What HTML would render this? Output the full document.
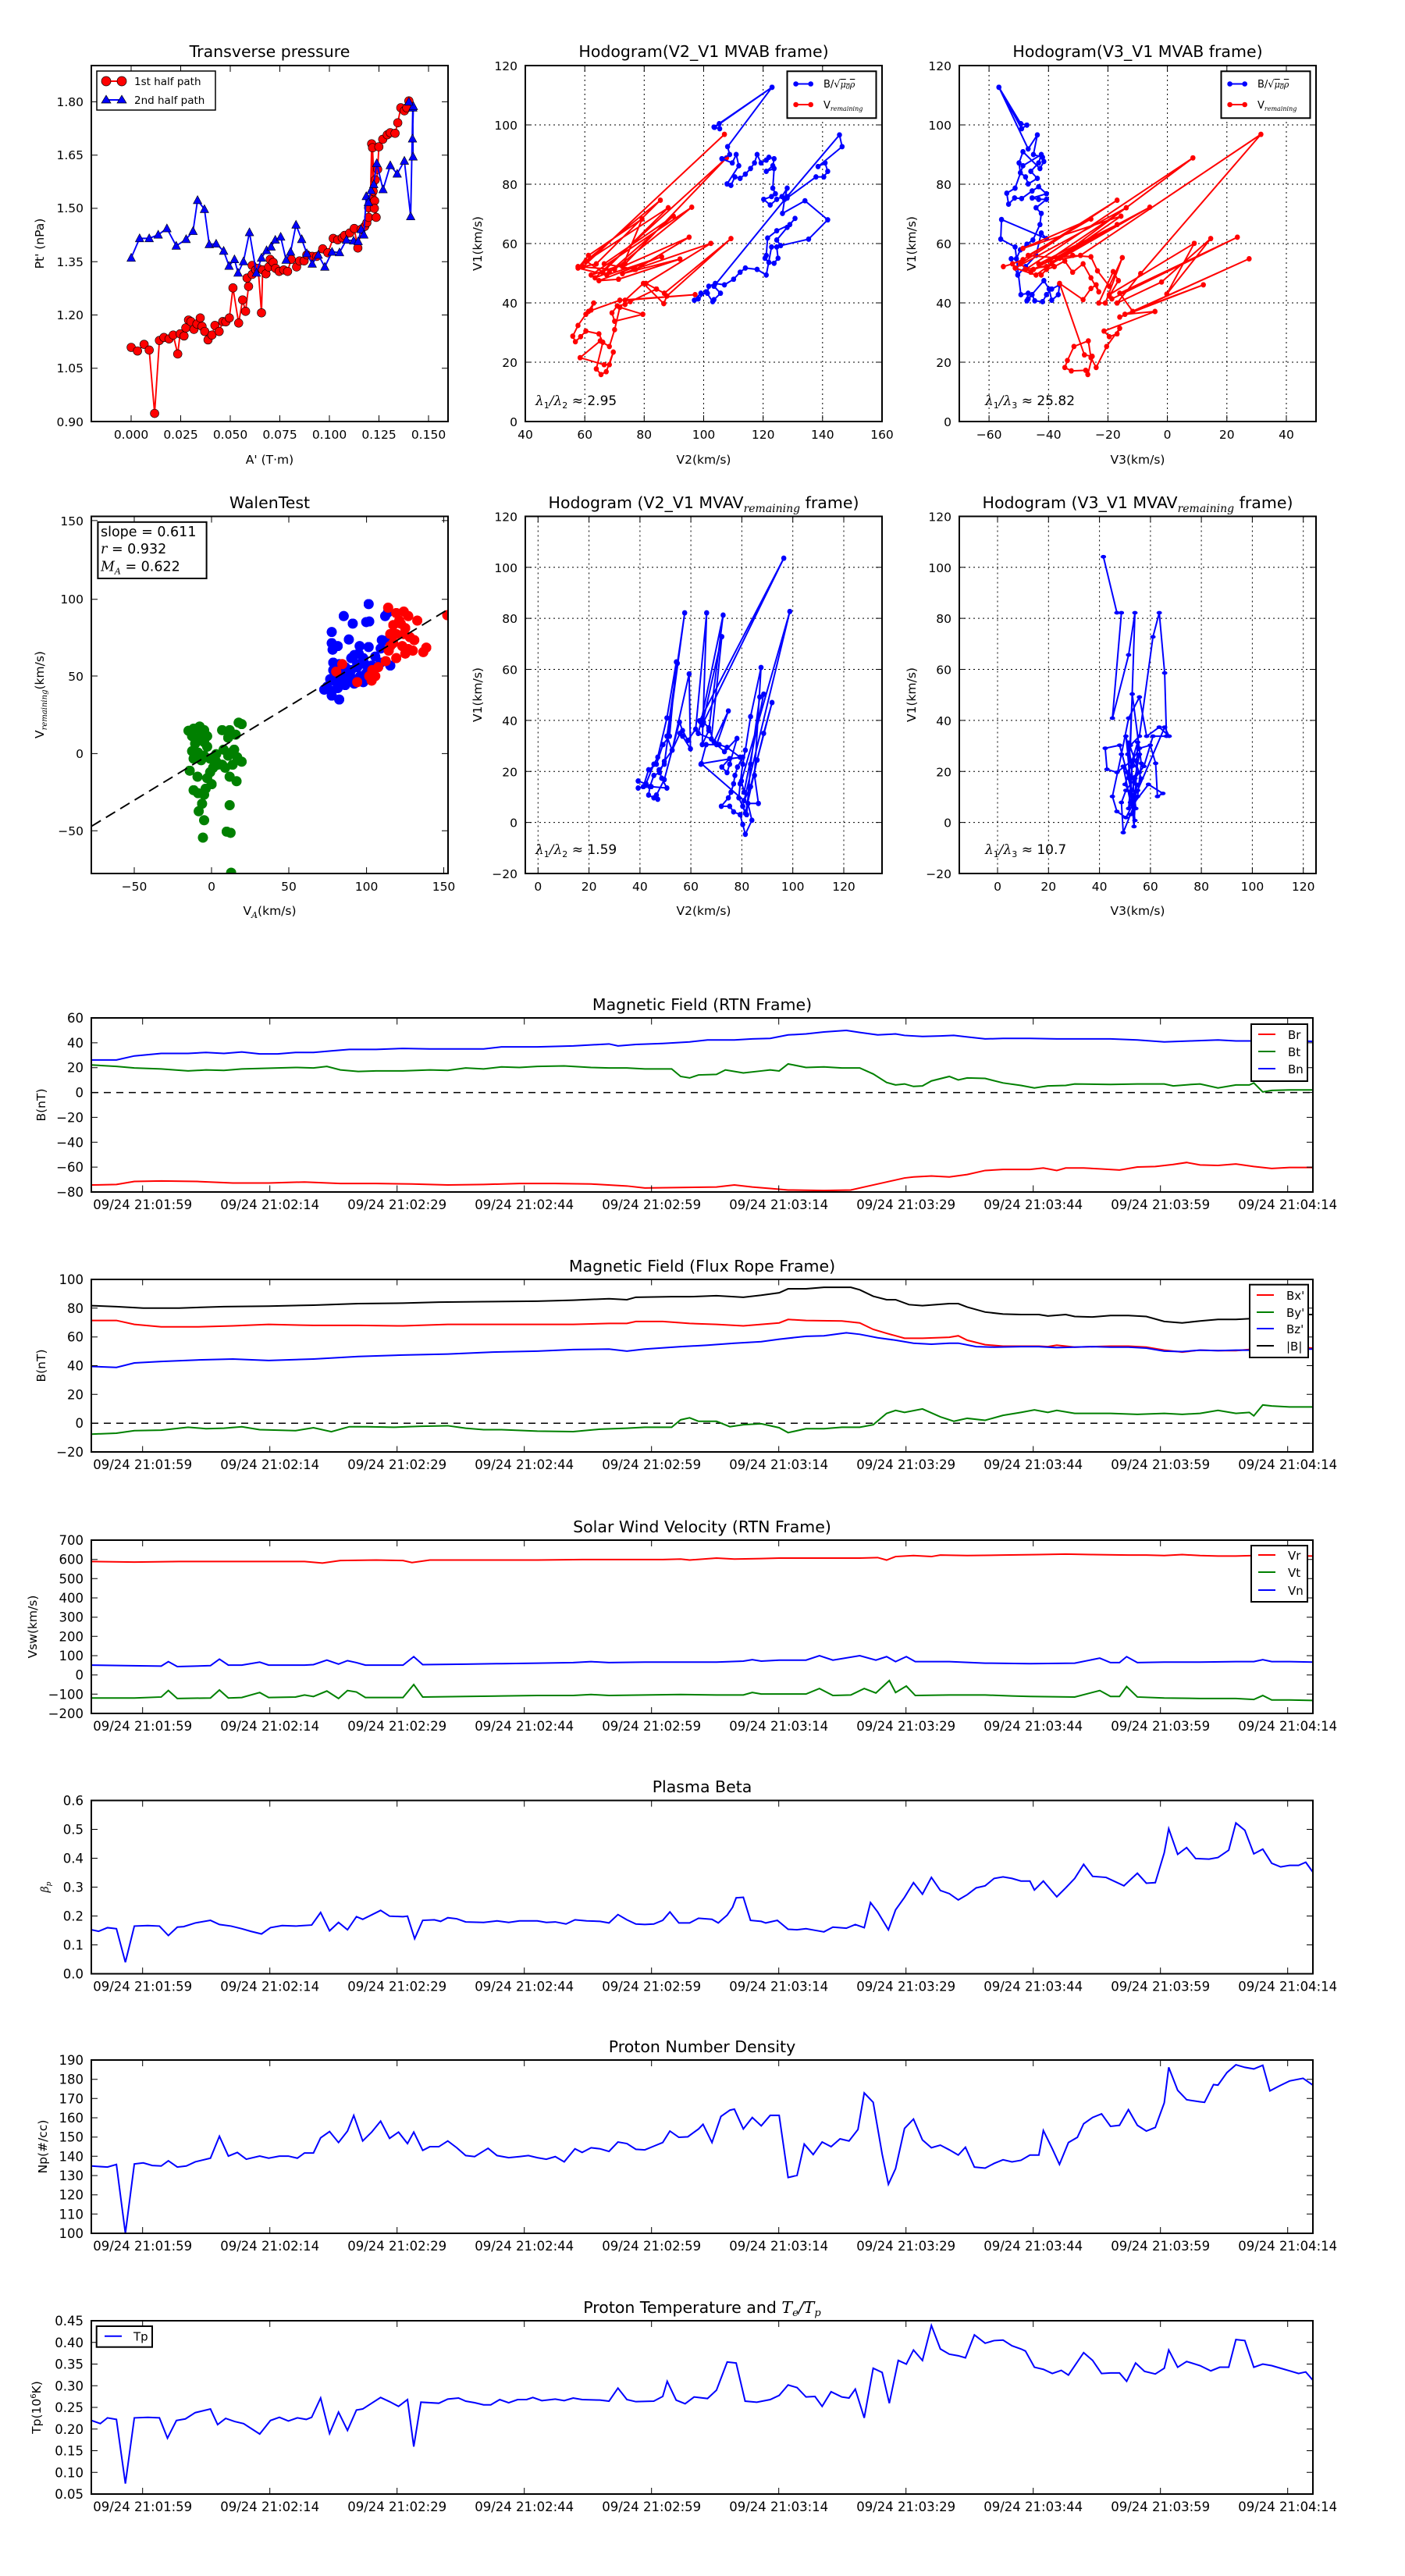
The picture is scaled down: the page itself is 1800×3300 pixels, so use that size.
<!DOCTYPE html>
<html><head><meta charset="utf-8"><style>
html,body{margin:0;padding:0;background:#fff;}
svg{display:block;font-family:"DejaVu Sans","Liberation Sans",sans-serif;}
.t{font-size:15.5px;}
.ts{font-size:16.5px;}
.ttl{font-size:20.5px;}
.m{font-family:"DejaVu Serif","Liberation Serif",serif;font-style:italic;}
</style></head><body>
<svg width="1800" height="3300" viewBox="0 0 1800 3300" xmlns="http://www.w3.org/2000/svg">
<defs>
<marker id="mc" markerUnits="userSpaceOnUse" viewBox="0 0 10 10" refX="5" refY="5" markerWidth="31" markerHeight="31"><circle cx="5" cy="5" r="4.6" fill="#f00" stroke="#000" stroke-width="0.5"/></marker>
<marker id="mt" markerUnits="userSpaceOnUse" viewBox="0 0 10 10" refX="5" refY="5.5" markerWidth="31" markerHeight="31"><polygon points="5,0.6 9.6,9.2 0.4,9.2" fill="#00f" stroke="#000" stroke-width="0.5"/></marker>
<marker id="hb" markerUnits="userSpaceOnUse" viewBox="0 0 10 10" refX="5" refY="5" markerWidth="20.9" markerHeight="19.5"><circle cx="5" cy="5" r="5" fill="#00f"/></marker>
<marker id="hr" markerUnits="userSpaceOnUse" viewBox="0 0 10 10" refX="5" refY="5" markerWidth="20.9" markerHeight="19.5"><circle cx="5" cy="5" r="5" fill="#f00"/></marker>
<marker id="hb2" markerUnits="userSpaceOnUse" viewBox="0 0 10 10" refX="5" refY="5" markerWidth="6.06" markerHeight="9.07"><circle cx="5" cy="5" r="5" fill="#00f"/></marker>
<marker id="wb" markerUnits="userSpaceOnUse" viewBox="0 0 10 10" refX="5" refY="5" markerWidth="34" markerHeight="34"><circle cx="5" cy="5" r="5" fill="#00f"/></marker>
<marker id="wr" markerUnits="userSpaceOnUse" viewBox="0 0 10 10" refX="5" refY="5" markerWidth="34" markerHeight="34"><circle cx="5" cy="5" r="5" fill="#f00"/></marker>
<marker id="wg" markerUnits="userSpaceOnUse" viewBox="0 0 10 10" refX="5" refY="5" markerWidth="34" markerHeight="34"><circle cx="5" cy="5" r="5" fill="#008000"/></marker>
<clipPath id="c1"><rect x="117" y="84" width="457" height="456"/></clipPath>
<clipPath id="c2"><rect x="673" y="84" width="457" height="456"/></clipPath>
<clipPath id="c3"><rect x="1229" y="84" width="457" height="456"/></clipPath>
<clipPath id="c4"><rect x="117" y="661.5" width="457" height="457.5"/></clipPath>
<clipPath id="c5"><rect x="673" y="661.5" width="457" height="457.5"/></clipPath>
<clipPath id="c6"><rect x="1229" y="661.5" width="457" height="457.5"/></clipPath>
<clipPath id="ct1"><rect x="117" y="1304" width="1565" height="223"/></clipPath>
<clipPath id="ct2"><rect x="117" y="1639" width="1565" height="221"/></clipPath>
<clipPath id="ct3"><rect x="117" y="1973" width="1565" height="222"/></clipPath>
<clipPath id="ct4"><rect x="117" y="2306.5" width="1565" height="222"/></clipPath>
<clipPath id="ct5"><rect x="117" y="2639" width="1565" height="222"/></clipPath>
<clipPath id="ct6"><rect x="117" y="2973" width="1565" height="222"/></clipPath>
<g id="tsticks" stroke="#000" stroke-width="1" fill="none"><path d="M182.7 0v8M345.7 0v8M508.7 0v8M671.7 0v8M834.7 0v8M997.7 0v8M1160.7 0v8M1323.7 0v8M1486.7 0v8M1649.7 0v8M182.7 222v-8M345.7 222v-8M508.7 222v-8M671.7 222v-8M834.7 222v-8M997.7 222v-8M1160.7 222v-8M1323.7 222v-8M1486.7 222v-8M1649.7 222v-8"/></g>
</defs>
<rect width="1800" height="3300" fill="#fff"/>

<g clip-path="url(#c1)">
<g transform="translate(0,40) scale(0.3846)">
<polyline fill="none" stroke="#f00" stroke-width="5" marker-start="url(#mc)" marker-mid="url(#mc)" marker-end="url(#mc)" points="437,1053 458,1065 480,1043 497,1062 515,1273 531,1030 546,1020 563,1025 577,1012 592,1075 600,1008 613,1015 619,988 628,962 636,967 646,993 656,975 667,955 673,983 682,1000 693,1028 706,1012 716,980 730,1000 742,967 752,968 764,955 776,855 795,972 808,895 818,933 828,850 823,822 840,810 840,780 852,795 860,790 871,938 875,795 886,808 895,785 900,760 910,770 918,790 930,800 945,795 958,800 970,760 988,785 998,765 1013,765 1022,745 1040,750 1055,750 1075,725 1092,738 1110,690 1125,695 1140,688 1148,680 1165,672 1180,657 1192,722 1203,660 1215,650 1222,638 1228,620 1228,588 1234,560 1238,375 1243,533 1241,388 1248,565 1250,495 1253,620 1247,590 1258,460 1262,385 1275,360 1290,345 1300,338 1316,340 1325,305 1335,255 1347,265 1355,255 1362,232"/>
<polyline fill="none" stroke="#00f" stroke-width="5" marker-start="url(#mt)" marker-mid="url(#mt)" marker-end="url(#mt)" points="437,755 465,690 497,690 527,678 556,657 587,715 620,693 643,666 658,563 681,593 697,710 720,708 745,732 763,782 781,760 793,805 811,767 831,670 854,805 871,755 888,730 903,718 917,695 935,685 953,762 968,735 986,645 1005,693 1022,740 1040,775 1060,745 1082,785 1106,735 1131,737 1154,695 1178,698 1193,700 1203,660 1212,678 1220,550 1227,570 1236,530 1245,510 1255,440 1276,527 1300,447 1323,475 1347,432 1368,617 1375,255 1376,418 1374,358 1377,250 1362,235"/>
</g></g>
<rect x="117" y="84" width="457" height="456" fill="none" stroke="#000" stroke-width="2"/>
<path stroke="#000" stroke-width="1" fill="none" d="M168 540v-8M231.5 540v-8M295 540v-8M358.5 540v-8M422 540v-8M485.5 540v-8M549 540v-8M168 84v8M231.5 84v8M295 84v8M358.5 84v8M422 84v8M485.5 84v8M549 84v8M117 130.4h8M117 198.7h8M117 266.9h8M117 335.2h8M117 403.5h8M117 471.7h8M574 130.4h-8M574 198.7h-8M574 266.9h-8M574 335.2h-8M574 403.5h-8M574 471.7h-8"/>
<g class="t" text-anchor="middle">
<text x="168" y="562">0.000</text><text x="231.5" y="562">0.025</text><text x="295" y="562">0.050</text><text x="358.5" y="562">0.075</text><text x="422" y="562">0.100</text><text x="485.5" y="562">0.125</text><text x="549" y="562">0.150</text>
</g>
<g class="t" text-anchor="end">
<text x="107" y="136">1.80</text><text x="107" y="204">1.65</text><text x="107" y="272">1.50</text><text x="107" y="341">1.35</text><text x="107" y="409">1.20</text><text x="107" y="477">1.05</text><text x="107" y="546">0.90</text>
</g>
<text class="ttl" x="345.5" y="73" text-anchor="middle">Transverse pressure</text>
<text class="t" x="345.5" y="594" text-anchor="middle">A' (T·m)</text>
<text class="t" transform="translate(56,312) rotate(-90)" text-anchor="middle">Pt' (nPa)</text>
<rect x="124" y="91" width="152" height="50" fill="#fff" stroke="#000" stroke-width="1.5"/>
<line x1="136" y1="104" x2="156" y2="104" stroke="#f00" stroke-width="2"/>
<circle cx="136" cy="104" r="6" fill="#f00" stroke="#000" stroke-width="0.7"/><circle cx="156" cy="104" r="6" fill="#f00" stroke="#000" stroke-width="0.7"/>
<line x1="136" y1="128" x2="156" y2="128" stroke="#00f" stroke-width="2"/>
<polygon points="136,122 142,132 130,132" fill="#00f" stroke="#000" stroke-width="0.7"/><polygon points="156,122 162,132 150,132" fill="#00f" stroke="#000" stroke-width="0.7"/>
<text x="172" y="109" font-size="13.5">1st half path</text>
<text x="172" y="133" font-size="13.5">2nd half path</text>

<g stroke="#000" stroke-width="1" stroke-dasharray="2,4" fill="none">
<path d="M749.2 84V540M825.3 84V540M901.5 84V540M977.7 84V540M1053.8 84V540M673 464H1130M673 388H1130M673 312H1130M673 236H1130M673 160H1130"/>
</g>
<g clip-path="url(#c2)"><g transform="translate(640,40) scale(0.335,0.359)">
<polyline fill="none" stroke="#f00" stroke-width="2" vector-effect="non-scaling-stroke" marker-start="url(#hr)" marker-mid="url(#hr)" marker-end="url(#hr)" points="860,368 320,840 370,830 615,603 330,820 395,860 645,630 300,840 440,850 735,628 350,870 480,830 868,452 365,880 420,860 665,660 400,830 520,850 725,735 470,840 545,670 340,800 300,845 410,870 620,805 380,890 455,885 690,813 470,865 515,850 808,757 560,900 600,920 630,935 885,740 640,945 628,972 550,900 480,960 748,940 460,960 340,1000 360,970 350,995 330,1010 300,1050 280,1088 290,1108 310,1090 330,1070 380,1080 395,1110 370,1205 388,1225 408,1215 435,1145 420,1190 400,1190 308,1165 385,1105 420,1125 440,1065 460,985 548,1010 440,1035 430,1005 450,980 480,975 500,965 600,920"/>
<polyline fill="none" stroke="#00f" stroke-width="2" vector-effect="non-scaling-stroke" marker-start="url(#hb)" marker-mid="url(#hb)" marker-end="url(#hb)" points="1042,200 820,342 840,330 842,348 822,343 1042,200 872,412 880,440 850,455 890,470 905,440 915,480 870,545 885,550 900,520 920,525 940,510 960,490 975,470 985,440 1000,470 1020,460 1030,450 1050,455 1045,480 1020,500 1050,490 1045,560 1055,580 1040,590 1010,600 1035,620 1060,600 1080,590 1100,560 1090,600 1082,650 1168,605 1255,673 1182,742 1075,765 1060,745 1100,700 1130,668 1110,690 1060,712 1025,738 1020,800 1015,810 1030,825 1050,828 1065,810 1060,770 1040,770 1020,870 985,850 940,845 920,860 895,885 860,905 825,900 800,910 795,935 770,935 745,960 760,955 790,930 815,965 820,958 845,935 820,910 1100,590 1300,370 1310,412 1218,483 1245,470 1255,500 1240,520 1210,520 1100,595"/>
</g></g>
<rect x="673" y="84" width="457" height="456" fill="none" stroke="#000" stroke-width="2"/>
<path stroke="#000" stroke-width="1" fill="none" d="M749.2 540v-8M825.3 540v-8M901.5 540v-8M977.7 540v-8M1053.8 540v-8M749.2 84v8M825.3 84v8M901.5 84v8M977.7 84v8M1053.8 84v8M673 464h8M673 388h8M673 312h8M673 236h8M673 160h8M1130 464h-8M1130 388h-8M1130 312h-8M1130 236h-8M1130 160h-8"/>
<g class="t" text-anchor="middle">
<text x="673" y="562">40</text><text x="749.2" y="562">60</text><text x="825.3" y="562">80</text><text x="901.5" y="562">100</text><text x="977.7" y="562">120</text><text x="1053.8" y="562">140</text><text x="1130" y="562">160</text>
</g>
<g class="t" text-anchor="end">
<text x="663" y="546">0</text><text x="663" y="470">20</text><text x="663" y="394">40</text><text x="663" y="318">60</text><text x="663" y="242">80</text><text x="663" y="166">100</text><text x="663" y="90">120</text>
</g>
<text class="ttl" x="901.5" y="73" text-anchor="middle">Hodogram(V2_V1 MVAB frame)</text>
<text class="t" x="901.5" y="594" text-anchor="middle">V2(km/s)</text>
<text class="t" transform="translate(617,312) rotate(-90)" text-anchor="middle">V1(km/s)</text>
<rect x="1008.5" y="91.3" width="114" height="60" fill="#fff" stroke="#000" stroke-width="2"/>
<line x1="1019.6" y1="107.5" x2="1038.7" y2="107.5" stroke="#00f" stroke-width="2"/><circle cx="1019.6" cy="107.5" r="3.3" fill="#00f"/><circle cx="1038.7" cy="107.5" r="3.3" fill="#00f"/>
<line x1="1019.6" y1="134" x2="1038.7" y2="134" stroke="#f00" stroke-width="2"/><circle cx="1019.6" cy="134" r="3.3" fill="#f00"/><circle cx="1038.7" cy="134" r="3.3" fill="#f00"/>
<text x="1055" y="112" font-size="13">B/√<tspan class="m" font-size="11" text-decoration="overline">μ<tspan font-size="8" dy="2">0</tspan><tspan dy="-2">ρ</tspan></tspan></text>
<text x="1055" y="139" font-size="13">V<tspan class="m" font-size="8" dy="3">remaining</tspan></text>
<text x="686" y="519" font-size="17"><tspan class="m">λ</tspan><tspan font-size="11" dy="4">1</tspan><tspan class="m" dy="-4">/λ</tspan><tspan font-size="11" dy="4">2</tspan><tspan dy="-4"> ≈ 2.95</tspan></text>

<g stroke="#000" stroke-width="1" stroke-dasharray="2,4" fill="none">
<path d="M1267.1 84V540M1343.3 84V540M1419.4 84V540M1495.6 84V540M1571.8 84V540M1648 84V540M1229 464H1686M1229 388H1686M1229 312H1686M1229 236H1686M1229 160H1686"/>
</g>
<g clip-path="url(#c3)"><g transform="translate(1200,40) scale(0.335,0.359)">
<polyline fill="none" stroke="#00f" stroke-width="2" vector-effect="non-scaling-stroke" marker-start="url(#hb)" marker-mid="url(#hb)" marker-end="url(#hb)" points="238,200 322,330 345,335 325,348 238,200 350,420 385,370 370,440 405,450 410,465 395,490 330,430 315,470 320,505 340,520 350,545 385,525 360,500 390,470 400,440 330,480 300,560 268,578 275,617 298,595 325,597 365,570 390,555 420,580 365,595 390,600 420,600 380,630 400,650 395,690 368,745 345,760 320,780 305,812 285,812 310,870 340,840 380,800 400,720 420,740 248,672 245,742 300,770 322,940 350,935 345,962 365,940 375,962 405,965 420,940 440,920 470,905 465,940 440,960 430,920 410,890 350,955"/>
<polyline fill="none" stroke="#f00" stroke-width="2" vector-effect="non-scaling-stroke" marker-start="url(#hr)" marker-mid="url(#hr)" marker-end="url(#hr)" points="255,840 290,830 330,815 690,603 320,830 360,860 725,630 300,845 380,870 980,452 340,850 420,840 815,628 370,850 440,830 705,660 330,775 590,670 350,800 470,810 690,690 390,830 550,800 1240,368 780,865 690,970 860,895 1048,740 880,938 985,757 660,940 670,955 1150,735 700,935 750,1000 1195,812 700,1020 1020,905 720,1010 835,1000 640,1070 660,1090 690,1080 700,1060 650,1125 610,1200 590,1165 580,1105 525,1125 500,1175 490,1200 515,1212 570,1210 578,1225 595,1160 565,1155 470,900 560,958 590,918 610,905 620,930 590,880 560,830 520,860 490,820 450,840 420,850 400,870 460,810 520,800 590,805 615,855 660,910 710,808 645,970 620,970 675,858 695,890 660,945"/>
</g></g>
<rect x="1229" y="84" width="457" height="456" fill="none" stroke="#000" stroke-width="2"/>
<path stroke="#000" stroke-width="1" fill="none" d="M1267.1 540v-8M1343.3 540v-8M1419.4 540v-8M1495.6 540v-8M1571.8 540v-8M1648 540v-8M1267.1 84v8M1343.3 84v8M1419.4 84v8M1495.6 84v8M1571.8 84v8M1648 84v8M1229 464h8M1229 388h8M1229 312h8M1229 236h8M1229 160h8M1686 464h-8M1686 388h-8M1686 312h-8M1686 236h-8M1686 160h-8"/>
<g class="t" text-anchor="middle">
<text x="1267.1" y="562">−60</text><text x="1343.3" y="562">−40</text><text x="1419.4" y="562">−20</text><text x="1495.6" y="562">0</text><text x="1571.8" y="562">20</text><text x="1648" y="562">40</text>
</g>
<g class="t" text-anchor="end">
<text x="1219" y="546">0</text><text x="1219" y="470">20</text><text x="1219" y="394">40</text><text x="1219" y="318">60</text><text x="1219" y="242">80</text><text x="1219" y="166">100</text><text x="1219" y="90">120</text>
</g>
<text class="ttl" x="1457.5" y="73" text-anchor="middle">Hodogram(V3_V1 MVAB frame)</text>
<text class="t" x="1457.5" y="594" text-anchor="middle">V3(km/s)</text>
<text class="t" transform="translate(1173,312) rotate(-90)" text-anchor="middle">V1(km/s)</text>
<rect x="1564.5" y="91.3" width="114" height="60" fill="#fff" stroke="#000" stroke-width="2"/>
<line x1="1575.6" y1="107.5" x2="1594.7" y2="107.5" stroke="#00f" stroke-width="2"/><circle cx="1575.6" cy="107.5" r="3.3" fill="#00f"/><circle cx="1594.7" cy="107.5" r="3.3" fill="#00f"/>
<line x1="1575.6" y1="134" x2="1594.7" y2="134" stroke="#f00" stroke-width="2"/><circle cx="1575.6" cy="134" r="3.3" fill="#f00"/><circle cx="1594.7" cy="134" r="3.3" fill="#f00"/>
<text x="1611" y="112" font-size="13">B/√<tspan class="m" font-size="11" text-decoration="overline">μ<tspan font-size="8" dy="2">0</tspan><tspan dy="-2">ρ</tspan></tspan></text>
<text x="1611" y="139" font-size="13">V<tspan class="m" font-size="8" dy="3">remaining</tspan></text>
<text x="1262" y="519" font-size="17"><tspan class="m">λ</tspan><tspan font-size="11" dy="4">1</tspan><tspan class="m" dy="-4">/λ</tspan><tspan font-size="11" dy="4">3</tspan><tspan dy="-4"> ≈ 25.82</tspan></text>

<g clip-path="url(#c4)"><g transform="translate(0,620) scale(0.3846)">
<polyline fill="none" stroke="#00f" stroke-opacity="0" points="1228,400 1145,440 1175,465 1220,460 1230,458 1283,440 1292,428 1105,493 1162,518 1105,530 1125,540 1108,552 1198,540 1228,543 1268,548 1288,522 1272,520 1250,575 1268,595 1300,605 1110,595 1130,600 1150,610 1170,580 1180,570 1195,565 1210,580 1190,600 1170,620 1150,630 1130,640 1110,620 1100,650 1120,660 1140,650 1160,640 1180,650 1200,640 1220,630 1240,630 1210,660 1180,665 1150,670 1125,680 1105,690 1080,685 1090,675 1105,705 1130,718 1160,655 1190,610 1215,600 1238,605" marker-start="url(#wb)" marker-mid="url(#wb)" marker-end="url(#wb)"/>
<polyline fill="none" stroke-opacity="0" stroke="#f00" points="1293,412 1320,430 1345,425 1360,440 1390,455 1310,470 1335,465 1350,480 1300,500 1320,500 1345,500 1365,510 1380,520 1310,530 1340,540 1360,550 1375,555 1420,545 1410,560 1295,555 1320,580 1350,565 1285,590 1260,610 1240,620 1230,640 1250,640 1238,655 1490,437 1140,600 1120,625 1190,660 1300,540 1330,455" marker-start="url(#wr)" marker-mid="url(#wr)" marker-end="url(#wr)"/>
<polyline fill="none" stroke-opacity="0" stroke="#080" points="628,822 645,815 665,808 680,820 690,840 640,840 660,850 680,860 690,875 640,890 660,895 680,905 645,915 670,920 700,915 720,925 740,820 765,820 760,845 785,835 795,795 805,800 780,885 770,895 790,910 805,925 760,905 740,935 750,945 725,935 710,945 700,960 690,980 705,1000 685,1015 680,1035 645,1020 660,1030 632,955 658,975 673,1065 662,1090 680,1120 676,1178 765,1070 765,975 788,990 755,1158 768,1162 770,1295 720,900 745,885 775,935 650,865 670,830" marker-start="url(#wg)" marker-mid="url(#wg)" marker-end="url(#wg)"/>
<line x1="305" y1="1140" x2="1492" y2="418" stroke="#000" stroke-width="5" stroke-dasharray="36,20"/>
</g></g>
<rect x="117" y="661.5" width="457" height="457.5" fill="none" stroke="#000" stroke-width="2"/>
<path stroke="#000" stroke-width="1" fill="none" d="M172 1119v-8M271 1119v-8M370 1119v-8M469.6 1119v-8M568.5 1119v-8M172 661.5v8M271 661.5v8M370 661.5v8M469.6 661.5v8M568.5 661.5v8M117 1064.2h8M117 965.4h8M117 866h8M117 767.7h8M117 666.9h8M574 1064.2h-8M574 965.4h-8M574 866h-8M574 767.7h-8M574 666.9h-8"/>
<g class="t" text-anchor="middle">
<text x="172" y="1141">−50</text><text x="271" y="1141">0</text><text x="370" y="1141">50</text><text x="469.6" y="1141">100</text><text x="568.5" y="1141">150</text>
</g>
<g class="t" text-anchor="end">
<text x="107" y="1070">−50</text><text x="107" y="971">0</text><text x="107" y="872">50</text><text x="107" y="773">100</text><text x="107" y="673">150</text>
</g>
<text class="ttl" x="345.5" y="651" text-anchor="middle">WalenTest</text>
<text class="t" x="345.5" y="1172" text-anchor="middle">V<tspan class="m" font-size="11" dy="4">A</tspan><tspan dy="-4">(km/s)</tspan></text>
<text class="t" transform="translate(56,890) rotate(-90)" text-anchor="middle">V<tspan class="m" font-size="10" dy="4">remaining</tspan><tspan dy="-4">(km/s)</tspan></text>
<rect x="125.4" y="668.8" width="139.2" height="72.2" fill="#fff" stroke="#000" stroke-width="2"/>
<text x="129" y="687" font-size="17.5">slope = 0.611</text>
<text x="129" y="709" font-size="17.5"><tspan class="m">r</tspan> = 0.932</text>
<text x="129" y="731.5" font-size="17.5"><tspan class="m">M</tspan><tspan class="m" font-size="11" dy="4">A</tspan><tspan dy="-4"> = 0.622</tspan></text>

<g stroke="#000" stroke-width="1" stroke-dasharray="2,4" fill="none">
<path d="M689.3 661.5V1119M754.6 661.5V1119M819.9 661.5V1119M885.1 661.5V1119M950.4 661.5V1119M1015.7 661.5V1119M1081 661.5V1119M673 1053.6H1130M673 988.3H1130M673 922.9H1130M673 857.5H1130M673 792.1H1130M673 726.8H1130"/>
</g>
<g clip-path="url(#c5)"><g transform="translate(640,620) scale(0.335,0.359)">
<polyline fill="none" stroke="#00f" stroke-width="2" vector-effect="non-scaling-stroke" marker-start="url(#hb)" marker-mid="url(#hb)" marker-end="url(#hb)" points="530,1060 560,1070 590,1000 605,975 640,835 676,635 650,900 625,930 600,1000 570,1020 550,1080 530,1085 580,1080 640,1085 620,1050 610,1020 630,1000 708,460 680,640 640,900 660,950 690,890 700,900 730,945 725,678 660,950 630,990 612,1030 590,1040 575,1080 570,1110 590,1120 605,1125 600,1110 630,1055 688,850 700,880 720,915 750,875 792,460 775,930 800,880 855,468 770,850 760,890 810,910 850,545 775,860 765,845 1087,265 780,850 800,870 820,920 875,810 830,930 860,955 908,908 880,1000 870,1030 850,1010 880,980 930,975 910,1010 900,1040 895,1070 885,1100 875,1120 848,1150 880,1150 895,1170 920,1180 930,1215 940,1250 965,1200 950,1140 990,1140 975,1040 1000,655 960,830 940,950 930,1000 920,1070 915,1120 930,1150 945,1180 960,1000 995,760 1010,750 935,1100 925,1060 1110,455 930,1150 940,1175 985,985 1042,780 1010,890 960,1080 935,1130 772,998 920,975 870,940 840,930 790,930 770,1000"/>
</g></g>
<rect x="673" y="661.5" width="457" height="457.5" fill="none" stroke="#000" stroke-width="2"/>
<path stroke="#000" stroke-width="1" fill="none" d="M689.3 1119v-8M754.6 1119v-8M819.9 1119v-8M885.1 1119v-8M950.4 1119v-8M1015.7 1119v-8M1081 1119v-8M689.3 661.5v8M754.6 661.5v8M819.9 661.5v8M885.1 661.5v8M950.4 661.5v8M1015.7 661.5v8M1081 661.5v8M673 1053.6h8M673 988.3h8M673 922.9h8M673 857.5h8M673 792.1h8M673 726.8h8M1130 1053.6h-8M1130 988.3h-8M1130 922.9h-8M1130 857.5h-8M1130 792.1h-8M1130 726.8h-8"/>
<g class="t" text-anchor="middle">
<text x="689.3" y="1141">0</text><text x="754.6" y="1141">20</text><text x="819.9" y="1141">40</text><text x="885.1" y="1141">60</text><text x="950.4" y="1141">80</text><text x="1015.7" y="1141">100</text><text x="1081" y="1141">120</text>
</g>
<g class="t" text-anchor="end">
<text x="663" y="1125">−20</text><text x="663" y="1059.6">0</text><text x="663" y="994.3">20</text><text x="663" y="928.9">40</text><text x="663" y="863.5">60</text><text x="663" y="798.1">80</text><text x="663" y="732.8">100</text><text x="663" y="667.5">120</text>
</g>
<text class="ttl" x="901.5" y="651" text-anchor="middle">Hodogram (V2_V1 MVAV<tspan class="m" font-size="14" dy="5">remaining</tspan><tspan dy="-5"> frame)</tspan></text>
<text class="t" x="901.5" y="1172" text-anchor="middle">V2(km/s)</text>
<text class="t" transform="translate(617,890) rotate(-90)" text-anchor="middle">V1(km/s)</text>
<text x="686" y="1094" font-size="17"><tspan class="m">λ</tspan><tspan font-size="11" dy="4">1</tspan><tspan class="m" dy="-4">/λ</tspan><tspan font-size="11" dy="4">2</tspan><tspan dy="-4"> ≈ 1.59</tspan></text>

<g stroke="#000" stroke-width="1" stroke-dasharray="2,4" fill="none">
<path d="M1278 661.5V1119M1343.3 661.5V1119M1408.6 661.5V1119M1473.9 661.5V1119M1539.1 661.5V1119M1604.4 661.5V1119M1669.7 661.5V1119M1229 1053.6H1686M1229 988.3H1686M1229 922.9H1686M1229 857.5H1686M1229 792.1H1686M1229 726.8H1686"/>
</g>
<g clip-path="url(#c6)"><g transform="translate(-5.8,-5.8) scale(1.154,0.7715)">
<polyline fill="none" stroke="#00f" stroke-width="2" vector-effect="non-scaling-stroke" marker-start="url(#hb2)" marker-mid="url(#hb2)" marker-end="url(#hb2)" points="1230,932 1245,1025 1250,1025 1240,1200 1258,1095 1265,1025 1260,1245 1270,1230 1285,1065 1292,1025 1298,1125 1300,1230 1285,1230 1275,1280 1265,1300 1255,1320 1250,1340 1252,1390 1260,1360 1268,1330 1272,1275 1262,1160 1258,1300 1248,1245 1232,1250 1234,1285 1245,1290 1262,1270 1270,1250 1282,1245 1288,1275 1290,1330 1296,1325 1280,1310 1262,1345 1255,1365 1245,1355 1240,1330 1250,1260 1258,1200 1270,1165 1278,1230 1292,1215 1303,1230 1298,1215 1268,1320 1258,1350 1262,1280 1255,1230 1265,1370 1260,1300 1270,1290 1257,1260 1264,1380 1268,1240 1254,1310 1262,1330 1272,1300 1258,1240 1266,1350 1256,1290 1270,1260 1260,1340 1252,1280 1267,1310"/>
</g></g>
<rect x="1229" y="661.5" width="457" height="457.5" fill="none" stroke="#000" stroke-width="2"/>
<path stroke="#000" stroke-width="1" fill="none" d="M1278 1119v-8M1343.3 1119v-8M1408.6 1119v-8M1473.9 1119v-8M1539.1 1119v-8M1604.4 1119v-8M1669.7 1119v-8M1278 661.5v8M1343.3 661.5v8M1408.6 661.5v8M1473.9 661.5v8M1539.1 661.5v8M1604.4 661.5v8M1669.7 661.5v8M1229 1053.6h8M1229 988.3h8M1229 922.9h8M1229 857.5h8M1229 792.1h8M1229 726.8h8M1686 1053.6h-8M1686 988.3h-8M1686 922.9h-8M1686 857.5h-8M1686 792.1h-8M1686 726.8h-8"/>
<g class="t" text-anchor="middle">
<text x="1278" y="1141">0</text><text x="1343.3" y="1141">20</text><text x="1408.6" y="1141">40</text><text x="1473.9" y="1141">60</text><text x="1539.1" y="1141">80</text><text x="1604.4" y="1141">100</text><text x="1669.7" y="1141">120</text>
</g>
<g class="t" text-anchor="end">
<text x="1219" y="1125">−20</text><text x="1219" y="1059.6">0</text><text x="1219" y="994.3">20</text><text x="1219" y="928.9">40</text><text x="1219" y="863.5">60</text><text x="1219" y="798.1">80</text><text x="1219" y="732.8">100</text><text x="1219" y="667.5">120</text>
</g>
<text class="ttl" x="1457.5" y="651" text-anchor="middle">Hodogram (V3_V1 MVAV<tspan class="m" font-size="14" dy="5">remaining</tspan><tspan dy="-5"> frame)</tspan></text>
<text class="t" x="1457.5" y="1172" text-anchor="middle">V3(km/s)</text>
<text class="t" transform="translate(1173,890) rotate(-90)" text-anchor="middle">V1(km/s)</text>
<text x="1262" y="1094" font-size="17"><tspan class="m">λ</tspan><tspan font-size="11" dy="4">1</tspan><tspan class="m" dy="-4">/λ</tspan><tspan font-size="11" dy="4">3</tspan><tspan dy="-4"> ≈ 10.7</tspan></text>

<text class="ttl" x="899.5" y="1294" text-anchor="middle">Magnetic Field (RTN Frame)</text>
<line x1="117" y1="1399.6" x2="1682" y2="1399.6" stroke="#000" stroke-width="1.5" stroke-dasharray="9,7"/>
<g clip-path="url(#ct1)"><g transform="translate(0,1248.9) scale(1.14736,0.6408)" fill="none" stroke-width="2">
<polyline stroke="#f00" vector-effect="non-scaling-stroke" points="102,420 130,419 150,413 180,412 220,413 260,416 300,416 340,414 380,417 420,417 460,418 500,420 540,419 580,417 620,417 660,418 700,422 720,426 760,425 800,424 820,420 840,424 860,427 880,430 920,431 950,430 970,422 990,414 1010,406 1020,404 1040,402 1060,404 1080,399 1100,391 1120,389 1150,389 1165,386 1180,391 1190,386 1210,386 1230,388 1250,390 1270,384 1290,383 1310,379 1325,375 1340,380 1360,381 1380,378 1400,383 1420,387 1440,385 1466,385"/>
<polyline stroke="#008000" vector-effect="non-scaling-stroke" points="102,180 130,183 150,186 180,188 210,192 230,190 250,191 270,188 290,187 310,186 330,185 350,186 365,183 380,190 400,193 420,192 450,192 480,190 500,191 520,186 540,188 560,184 580,185 600,183 630,182 660,185 680,186 700,186 720,188 750,188 760,203 770,206 780,200 800,199 810,190 830,196 850,192 860,190 870,192 880,178 900,185 920,184 940,186 960,186 975,198 990,215 1000,220 1010,218 1020,223 1030,222 1040,212 1060,203 1070,210 1080,206 1100,207 1120,216 1140,221 1155,226 1170,222 1190,221 1200,218 1240,219 1270,218 1300,218 1310,222 1330,219 1340,218 1360,226 1380,220 1395,220 1400,216 1410,234 1420,231 1440,230 1466,230"/>
<polyline stroke="#00f" vector-effect="non-scaling-stroke" points="102,170 130,170 150,162 180,157 210,157 230,155 250,157 270,154 290,158 310,158 330,155 350,155 370,152 390,149 420,149 450,147 480,148 510,148 540,148 560,144 600,144 640,142 680,138 690,142 710,139 740,137 770,134 790,130 820,130 840,128 860,127 880,120 900,118 920,114 945,111 960,115 980,120 1000,118 1010,121 1030,123 1050,122 1065,121 1080,124 1100,128 1120,127 1150,127 1180,128 1210,128 1240,128 1270,130 1300,134 1330,132 1360,130 1380,132 1400,132 1430,130 1466,133"/>
</g></g>
<rect x="117" y="1304" width="1565" height="223" fill="none" stroke="#000" stroke-width="2"/>
<use href="#tsticks" y="1304.5"/>
<path stroke="#000" stroke-width="1" d="M117 1335.9h8M117 1367.7h8M117 1399.6h8M117 1431.4h8M117 1463.3h8M117 1495.1h8M1682 1335.9h-8M1682 1367.7h-8M1682 1399.6h-8M1682 1431.4h-8M1682 1463.3h-8M1682 1495.1h-8"/>
<g class="ts" text-anchor="end">
<text x="107" y="1310">60</text><text x="107" y="1341.9">40</text><text x="107" y="1373.7">20</text><text x="107" y="1405.6">0</text><text x="107" y="1437.4">−20</text><text x="107" y="1469.3">−40</text><text x="107" y="1501.1">−60</text><text x="107" y="1533">−80</text>
</g>
<g class="ts" text-anchor="middle">
<text x="182.7" y="1549">09/24 21:01:59</text><text x="345.7" y="1549">09/24 21:02:14</text><text x="508.7" y="1549">09/24 21:02:29</text><text x="671.7" y="1549">09/24 21:02:44</text><text x="834.7" y="1549">09/24 21:02:59</text><text x="997.7" y="1549">09/24 21:03:14</text><text x="1160.7" y="1549">09/24 21:03:29</text><text x="1323.7" y="1549">09/24 21:03:44</text><text x="1486.7" y="1549">09/24 21:03:59</text><text x="1649.7" y="1549">09/24 21:04:14</text>
</g>
<text class="t" transform="translate(58,1415.5) rotate(-90)" text-anchor="middle">B(nT)</text>
<rect x="1603" y="1312" width="72" height="73" fill="#fff" stroke="#000" stroke-width="2"/>
<line x1="1612" y1="1325" x2="1634" y2="1325" stroke="#f00" stroke-width="2"/><text x="1650" y="1331" font-size="15">Br</text>
<line x1="1612" y1="1347" x2="1634" y2="1347" stroke="#008000" stroke-width="2"/><text x="1650" y="1353" font-size="15">Bt</text>
<line x1="1612" y1="1369" x2="1634" y2="1369" stroke="#00f" stroke-width="2"/><text x="1650" y="1375" font-size="15">Bn</text>

<text class="ttl" x="899.5" y="1629" text-anchor="middle">Magnetic Field (Flux Rope Frame)</text>
<line x1="117" y1="1823.2" x2="1682" y2="1823.2" stroke="#000" stroke-width="1.5" stroke-dasharray="9,7"/>
<g clip-path="url(#ct2)"><g transform="translate(0,1253.4) scale(1.14736,0.6332)" fill="none">
<polyline stroke="#000" stroke-width="2" vector-effect="non-scaling-stroke" points="102,662 130,664 160,667 200,667 250,664 300,663 350,661 400,658 450,657 490,655 540,654 600,653 640,651 680,648 700,650 710,645 750,644 770,644 800,642 830,645 850,641 870,636 880,628 900,628 920,625 950,625 960,630 975,643 990,650 1000,650 1015,660 1030,662 1060,658 1070,658 1080,665 1100,675 1120,679 1140,680 1160,680 1170,683 1190,680 1200,684 1220,685 1240,682 1260,682 1280,684 1300,694 1320,697 1340,693 1360,690 1380,690 1400,688 1420,681 1440,680 1466,680"/>
<polyline stroke="#f00" stroke-width="2" vector-effect="non-scaling-stroke" points="102,692 130,692 150,700 180,705 220,705 260,703 300,700 350,702 400,702 450,703 500,700 550,700 600,700 640,700 680,698 700,698 710,694 740,694 770,698 800,700 830,703 870,697 880,690 900,692 940,693 960,697 975,710 990,718 1010,728 1030,728 1060,726 1070,723 1080,732 1100,741 1120,744 1160,744 1170,745 1180,742 1200,746 1220,745 1240,744 1260,744 1280,746 1300,752 1320,756 1340,752 1360,753 1380,753 1400,750 1420,745 1440,745 1466,748"/>
<polyline stroke="#00f" stroke-width="2" vector-effect="non-scaling-stroke" points="102,785 130,787 150,778 180,775 220,772 260,770 300,773 350,770 400,765 450,762 500,760 550,756 600,754 640,751 680,750 700,754 720,750 760,745 790,742 820,738 850,735 870,730 900,724 920,723 945,717 960,720 980,727 1000,732 1020,738 1040,740 1060,738 1070,738 1090,745 1110,746 1140,745 1160,745 1180,747 1200,746 1220,745 1240,746 1260,746 1280,748 1300,754 1320,755 1340,752 1360,753 1380,752 1400,752 1420,750 1440,750 1466,750"/>
<polyline stroke="#008000" stroke-width="2" vector-effect="non-scaling-stroke" points="102,922 130,920 150,915 180,914 210,908 230,911 250,910 270,907 290,913 310,914 330,915 350,909 370,917 390,907 410,907 440,908 470,906 500,905 520,910 540,913 560,913 600,916 640,917 670,912 700,910 720,908 750,908 760,893 770,889 780,896 800,896 815,907 830,903 850,901 870,909 880,919 900,911 920,911 940,908 960,908 975,903 990,880 1000,874 1010,878 1030,871 1050,887 1065,896 1080,890 1100,894 1120,884 1140,878 1155,873 1170,878 1180,874 1200,880 1240,880 1270,882 1300,880 1320,882 1340,880 1360,874 1380,880 1395,878 1400,885 1410,863 1420,865 1440,867 1466,867"/>
</g></g>
<rect x="117" y="1639" width="1565" height="221" fill="none" stroke="#000" stroke-width="2"/>
<use href="#tsticks" y="1638.5"/>
<path stroke="#000" stroke-width="1" d="M117 1675.8h8M117 1712.7h8M117 1749.5h8M117 1786.3h8M117 1823.2h8M1682 1675.8h-8M1682 1712.7h-8M1682 1749.5h-8M1682 1786.3h-8M1682 1823.2h-8"/>
<g class="ts" text-anchor="end">
<text x="107" y="1645">100</text><text x="107" y="1681.8">80</text><text x="107" y="1718.7">60</text><text x="107" y="1755.5">40</text><text x="107" y="1792.3">20</text><text x="107" y="1829.2">0</text><text x="107" y="1866">−20</text>
</g>
<g class="ts" text-anchor="middle">
<text x="182.7" y="1882">09/24 21:01:59</text><text x="345.7" y="1882">09/24 21:02:14</text><text x="508.7" y="1882">09/24 21:02:29</text><text x="671.7" y="1882">09/24 21:02:44</text><text x="834.7" y="1882">09/24 21:02:59</text><text x="997.7" y="1882">09/24 21:03:14</text><text x="1160.7" y="1882">09/24 21:03:29</text><text x="1323.7" y="1882">09/24 21:03:44</text><text x="1486.7" y="1882">09/24 21:03:59</text><text x="1649.7" y="1882">09/24 21:04:14</text>
</g>
<text class="t" transform="translate(58,1749.5) rotate(-90)" text-anchor="middle">B(nT)</text>
<rect x="1601" y="1645.7" width="75" height="93.3" fill="#fff" stroke="#000" stroke-width="2"/>
<line x1="1610" y1="1659" x2="1632" y2="1659" stroke="#f00" stroke-width="2"/><text x="1648" y="1665" font-size="15">Bx'</text>
<line x1="1610" y1="1681" x2="1632" y2="1681" stroke="#008000" stroke-width="2"/><text x="1648" y="1687" font-size="15">By'</text>
<line x1="1610" y1="1702" x2="1632" y2="1702" stroke="#00f" stroke-width="2"/><text x="1648" y="1708" font-size="15">Bz'</text>
<line x1="1610" y1="1724" x2="1632" y2="1724" stroke="#000" stroke-width="2"/><text x="1648" y="1730" font-size="15">|B|</text>

<text class="ttl" x="899.5" y="1963" text-anchor="middle">Solar Wind Velocity (RTN Frame)</text>
<g clip-path="url(#ct3)"><g transform="translate(0,1250.9) scale(1.14736,0.6379)" fill="none">
<polyline stroke="#f00" stroke-width="2" vector-effect="non-scaling-stroke" points="102,1175 150,1176 200,1175 250,1175 300,1175 340,1175 360,1178 380,1173 420,1172 450,1173 460,1177 480,1172 520,1172 560,1172 600,1172 650,1171 700,1171 740,1171 760,1170 770,1172 800,1168 820,1170 850,1169 870,1168 900,1168 960,1168 980,1167 990,1172 1000,1165 1020,1163 1040,1165 1050,1162 1080,1163 1120,1162 1160,1161 1190,1160 1220,1161 1260,1162 1280,1162 1300,1163 1320,1161 1340,1163 1360,1164 1380,1164 1400,1163 1420,1163 1466,1164"/>
<polyline stroke="#008000" stroke-width="2" vector-effect="non-scaling-stroke" points="102,1449 150,1449 180,1447 188,1434 198,1450 235,1449 245,1433 255,1449 270,1448 290,1438 300,1448 330,1447 340,1443 350,1446 365,1435 378,1450 388,1434 398,1437 408,1448 450,1448 462,1422 472,1447 520,1446 560,1445 600,1444 640,1444 660,1442 680,1444 720,1443 760,1442 800,1443 830,1443 840,1438 850,1441 870,1441 900,1441 915,1430 930,1444 950,1443 965,1430 978,1439 993,1414 1000,1438 1012,1425 1022,1444 1060,1443 1100,1443 1130,1445 1150,1446 1200,1447 1228,1434 1240,1446 1250,1446 1258,1426 1270,1447 1300,1449 1340,1450 1380,1450 1400,1452 1410,1444 1420,1453 1440,1453 1466,1454"/>
<polyline stroke="#00f" stroke-width="2" vector-effect="non-scaling-stroke" points="102,1383 140,1384 180,1385 188,1376 198,1386 235,1384 245,1371 255,1383 270,1383 290,1377 300,1383 340,1383 350,1382 365,1373 378,1381 388,1374 398,1378 408,1383 450,1383 462,1366 472,1382 520,1381 560,1380 600,1379 640,1378 660,1376 680,1378 720,1377 760,1377 800,1377 830,1375 840,1372 850,1375 870,1373 900,1373 915,1364 930,1373 960,1364 978,1373 990,1366 1000,1376 1012,1366 1022,1376 1060,1376 1100,1379 1150,1380 1200,1379 1228,1369 1240,1378 1250,1378 1258,1366 1270,1378 1300,1377 1340,1377 1380,1376 1400,1376 1410,1372 1420,1376 1440,1376 1466,1377"/>
</g></g>
<rect x="117" y="1973" width="1565" height="222" fill="none" stroke="#000" stroke-width="2"/>
<use href="#tsticks" y="1973"/>
<path stroke="#000" stroke-width="1" d="M117 1997.7h8M117 2022.3h8M117 2047h8M117 2071.7h8M117 2096.3h8M117 2121h8M117 2145.7h8M117 2170.3h8M1682 1997.7h-8M1682 2022.3h-8M1682 2047h-8M1682 2071.7h-8M1682 2096.3h-8M1682 2121h-8M1682 2145.7h-8M1682 2170.3h-8"/>
<g class="ts" text-anchor="end">
<text x="107" y="1979">700</text><text x="107" y="2003.7">600</text><text x="107" y="2028.3">500</text><text x="107" y="2053">400</text><text x="107" y="2077.7">300</text><text x="107" y="2102.3">200</text><text x="107" y="2127">100</text><text x="107" y="2151.7">0</text><text x="107" y="2176.3">−100</text><text x="107" y="2201">−200</text>
</g>
<g class="ts" text-anchor="middle">
<text x="182.7" y="2217">09/24 21:01:59</text><text x="345.7" y="2217">09/24 21:02:14</text><text x="508.7" y="2217">09/24 21:02:29</text><text x="671.7" y="2217">09/24 21:02:44</text><text x="834.7" y="2217">09/24 21:02:59</text><text x="997.7" y="2217">09/24 21:03:14</text><text x="1160.7" y="2217">09/24 21:03:29</text><text x="1323.7" y="2217">09/24 21:03:44</text><text x="1486.7" y="2217">09/24 21:03:59</text><text x="1649.7" y="2217">09/24 21:04:14</text>
</g>
<text class="t" transform="translate(47,2084) rotate(-90)" text-anchor="middle">Vsw(km/s)</text>
<rect x="1603" y="1980" width="72" height="72" fill="#fff" stroke="#000" stroke-width="2"/>
<line x1="1612" y1="1992" x2="1634" y2="1992" stroke="#f00" stroke-width="2"/><text x="1650" y="1998" font-size="15">Vr</text>
<line x1="1612" y1="2014" x2="1634" y2="2014" stroke="#008000" stroke-width="2"/><text x="1650" y="2020" font-size="15">Vt</text>
<line x1="1612" y1="2037" x2="1634" y2="2037" stroke="#00f" stroke-width="2"/><text x="1650" y="2043" font-size="15">Vn</text>

<text class="ttl" x="899.5" y="2296" text-anchor="middle">Plasma Beta</text>
<g clip-path="url(#ct4)"><g transform="translate(0,2250.8) scale(1.14736,0.6707)" fill="none">
<polyline stroke="#00f" stroke-width="2" vector-effect="non-scaling-stroke" points="102,330 110,333 120,326 130,328 140,392 150,323 165,322 178,323 188,341 198,325 205,324 218,317 235,312 245,320 258,323 270,328 280,333 292,338 302,326 315,322 330,323 348,321 358,297 368,332 378,316 388,330 398,305 405,310 425,293 435,304 450,305 455,304 463,347 472,312 485,311 492,314 500,307 510,309 520,315 540,316 555,313 568,316 580,313 600,313 610,316 620,315 632,319 642,311 655,313 670,314 680,317 690,301 700,311 710,319 720,320 730,319 740,312 748,296 758,317 770,317 780,308 795,310 802,317 812,302 818,287 822,269 830,268 838,312 850,314 855,317 868,312 880,329 890,330 900,328 910,331 920,334 930,325 945,327 955,320 965,326 972,278 980,296 992,330 1000,292 1010,268 1020,240 1030,262 1040,230 1050,255 1060,261 1070,273 1080,263 1090,250 1100,246 1110,232 1120,229 1130,232 1140,237 1150,237 1155,254 1165,237 1180,267 1190,250 1200,232 1210,205 1220,228 1235,230 1245,238 1255,246 1270,222 1280,241 1290,240 1300,183 1305,137 1315,186 1325,173 1335,194 1350,195 1360,192 1372,178 1380,126 1390,140 1400,185 1410,176 1420,203 1430,210 1440,207 1450,207 1458,201 1466,220"/>
</g></g>
<rect x="117" y="2306.5" width="1565" height="222" fill="none" stroke="#000" stroke-width="2"/>
<use href="#tsticks" y="2306.5"/>
<path stroke="#000" stroke-width="1" d="M117 2343.5h8M117 2380.5h8M117 2417.5h8M117 2454.5h8M117 2491.5h8M1682 2343.5h-8M1682 2380.5h-8M1682 2417.5h-8M1682 2454.5h-8M1682 2491.5h-8"/>
<g class="ts" text-anchor="end">
<text x="107" y="2312.5">0.6</text><text x="107" y="2349.5">0.5</text><text x="107" y="2386.5">0.4</text><text x="107" y="2423.5">0.3</text><text x="107" y="2460.5">0.2</text><text x="107" y="2497.5">0.1</text><text x="107" y="2534.5">0.0</text>
</g>
<g class="ts" text-anchor="middle">
<text x="182.7" y="2550.5">09/24 21:01:59</text><text x="345.7" y="2550.5">09/24 21:02:14</text><text x="508.7" y="2550.5">09/24 21:02:29</text><text x="671.7" y="2550.5">09/24 21:02:44</text><text x="834.7" y="2550.5">09/24 21:02:59</text><text x="997.7" y="2550.5">09/24 21:03:14</text><text x="1160.7" y="2550.5">09/24 21:03:29</text><text x="1323.7" y="2550.5">09/24 21:03:44</text><text x="1486.7" y="2550.5">09/24 21:03:59</text><text x="1649.7" y="2550.5">09/24 21:04:14</text>
</g>
<text transform="translate(62,2417.5) rotate(-90)" text-anchor="middle" font-size="14"><tspan class="m">β</tspan><tspan class="m" font-size="9" dy="3">p</tspan></text>

<text class="ttl" x="899.5" y="2629" text-anchor="middle">Proton Number Density</text>
<g clip-path="url(#ct5)"><g transform="translate(0,2251.2) scale(1.14736,0.6687)" fill="none">
<polyline stroke="#00f" stroke-width="2" vector-effect="non-scaling-stroke" points="102,783 120,785 130,780 140,912 150,779 160,777 170,782 180,783 188,773 198,785 208,783 218,775 235,768 245,726 255,764 265,757 275,770 290,764 300,768 312,764 322,764 332,768 340,758 350,758 358,729 368,717 378,738 388,716 395,686 405,735 415,718 425,697 435,730 445,718 455,740 462,718 472,753 480,746 490,746 500,735 510,748 520,763 530,765 545,749 555,763 568,767 580,765 590,763 600,767 610,770 620,765 630,775 642,750 650,757 660,748 670,750 680,755 690,737 700,740 710,751 720,752 730,745 740,738 748,716 758,728 768,727 780,712 785,703 795,738 805,688 815,676 820,674 830,712 840,690 850,706 860,686 870,686 880,805 890,801 898,741 908,761 918,737 928,746 938,731 948,735 958,713 965,643 975,661 985,760 992,818 1000,788 1010,711 1020,693 1030,733 1040,748 1050,743 1060,752 1070,762 1078,747 1088,785 1100,787 1110,778 1120,771 1130,775 1140,772 1150,762 1160,762 1165,715 1175,750 1183,780 1193,738 1203,728 1210,702 1220,690 1230,683 1240,707 1250,705 1260,675 1270,705 1280,716 1290,709 1300,662 1305,594 1315,638 1325,656 1340,660 1345,661 1355,627 1360,628 1370,604 1380,589 1390,594 1400,597 1410,590 1418,639 1428,630 1440,620 1455,615 1466,628"/>
</g></g>
<rect x="117" y="2639" width="1565" height="222" fill="none" stroke="#000" stroke-width="2"/>
<use href="#tsticks" y="2639"/>
<path stroke="#000" stroke-width="1" d="M117 2663.7h8M117 2688.3h8M117 2713h8M117 2737.7h8M117 2762.3h8M117 2787h8M117 2811.7h8M117 2836.3h8M1682 2663.7h-8M1682 2688.3h-8M1682 2713h-8M1682 2737.7h-8M1682 2762.3h-8M1682 2787h-8M1682 2811.7h-8M1682 2836.3h-8"/>
<g class="ts" text-anchor="end">
<text x="107" y="2645">190</text><text x="107" y="2669.7">180</text><text x="107" y="2694.3">170</text><text x="107" y="2719">160</text><text x="107" y="2743.7">150</text><text x="107" y="2768.3">140</text><text x="107" y="2793">130</text><text x="107" y="2817.7">120</text><text x="107" y="2842.3">110</text><text x="107" y="2867">100</text>
</g>
<g class="ts" text-anchor="middle">
<text x="182.7" y="2883">09/24 21:01:59</text><text x="345.7" y="2883">09/24 21:02:14</text><text x="508.7" y="2883">09/24 21:02:29</text><text x="671.7" y="2883">09/24 21:02:44</text><text x="834.7" y="2883">09/24 21:02:59</text><text x="997.7" y="2883">09/24 21:03:14</text><text x="1160.7" y="2883">09/24 21:03:29</text><text x="1323.7" y="2883">09/24 21:03:44</text><text x="1486.7" y="2883">09/24 21:03:59</text><text x="1649.7" y="2883">09/24 21:04:14</text>
</g>
<text class="t" transform="translate(60,2750) rotate(-90)" text-anchor="middle">Np(#/cc)</text>

<text class="ttl" x="899.5" y="2963" text-anchor="middle">Proton Temperature and <tspan class="m">T</tspan><tspan class="m" font-size="13" dy="4">e</tspan><tspan class="m" dy="-4">/T</tspan><tspan class="m" font-size="13" dy="4">p</tspan></text>
<g clip-path="url(#ct6)"><g transform="translate(0,2251.5) scale(1.14736,0.6687)" fill="none">
<polyline stroke="#00f" stroke-width="2" vector-effect="non-scaling-stroke" points="102,1270 112,1276 120,1265 130,1268 140,1391 150,1265 165,1264 178,1265 187,1304 197,1270 207,1267 218,1255 235,1248 243,1278 252,1266 262,1272 272,1276 290,1296 302,1270 312,1264 322,1271 332,1265 342,1268 348,1264 358,1227 368,1295 378,1254 388,1289 398,1250 405,1248 425,1226 435,1234 445,1243 455,1230 462,1320 470,1235 490,1237 500,1229 512,1227 520,1233 530,1236 540,1240 548,1240 558,1230 568,1236 578,1230 588,1230 595,1226 605,1232 620,1229 630,1232 640,1227 650,1230 670,1231 680,1233 690,1208 700,1230 710,1234 730,1233 740,1224 745,1195 755,1231 765,1238 775,1225 790,1228 800,1212 812,1158 822,1160 832,1233 845,1235 860,1230 870,1222 880,1202 890,1207 900,1225 910,1224 918,1243 928,1215 940,1225 948,1227 955,1210 965,1265 975,1170 985,1178 993,1237 1003,1155 1012,1162 1020,1135 1030,1155 1040,1088 1050,1133 1060,1143 1070,1146 1078,1150 1088,1106 1100,1122 1110,1117 1120,1116 1130,1127 1140,1133 1145,1137 1155,1168 1165,1172 1175,1180 1185,1174 1193,1183 1210,1140 1220,1155 1230,1180 1240,1179 1250,1179 1258,1195 1268,1160 1278,1176 1290,1181 1300,1170 1305,1135 1315,1168 1325,1157 1340,1165 1352,1175 1362,1168 1372,1168 1380,1115 1390,1117 1400,1168 1410,1162 1420,1165 1430,1170 1440,1175 1450,1180 1458,1177 1466,1193"/>
</g></g>
<rect x="117" y="2973" width="1565" height="222" fill="none" stroke="#000" stroke-width="2"/>
<use href="#tsticks" y="2973"/>
<path stroke="#000" stroke-width="1" d="M117 3000.75h8M117 3028.5h8M117 3056.25h8M117 3084h8M117 3111.75h8M117 3139.5h8M117 3167.25h8M1682 3000.75h-8M1682 3028.5h-8M1682 3056.25h-8M1682 3084h-8M1682 3111.75h-8M1682 3139.5h-8M1682 3167.25h-8"/>
<g class="ts" text-anchor="end">
<text x="107" y="2979">0.45</text><text x="107" y="3006.75">0.40</text><text x="107" y="3034.5">0.35</text><text x="107" y="3062.25">0.30</text><text x="107" y="3090">0.25</text><text x="107" y="3117.75">0.20</text><text x="107" y="3145.5">0.15</text><text x="107" y="3173.25">0.10</text><text x="107" y="3201">0.05</text>
</g>
<g class="ts" text-anchor="middle">
<text x="182.7" y="3217">09/24 21:01:59</text><text x="345.7" y="3217">09/24 21:02:14</text><text x="508.7" y="3217">09/24 21:02:29</text><text x="671.7" y="3217">09/24 21:02:44</text><text x="834.7" y="3217">09/24 21:02:59</text><text x="997.7" y="3217">09/24 21:03:14</text><text x="1160.7" y="3217">09/24 21:03:29</text><text x="1323.7" y="3217">09/24 21:03:44</text><text x="1486.7" y="3217">09/24 21:03:59</text><text x="1649.7" y="3217">09/24 21:04:14</text>
</g>
<text class="t" transform="translate(52,3084) rotate(-90)" text-anchor="middle">Tp(10<tspan font-size="10" dy="-6">6</tspan><tspan dy="6">K)</tspan></text>
<rect x="123.7" y="2980" width="71.3" height="26.7" fill="#fff" stroke="#000" stroke-width="2"/>
<line x1="134" y1="2992.7" x2="156" y2="2992.7" stroke="#00f" stroke-width="2"/>
<text x="171" y="2998.5" font-size="15">Tp</text>
</svg>
</body></html>
